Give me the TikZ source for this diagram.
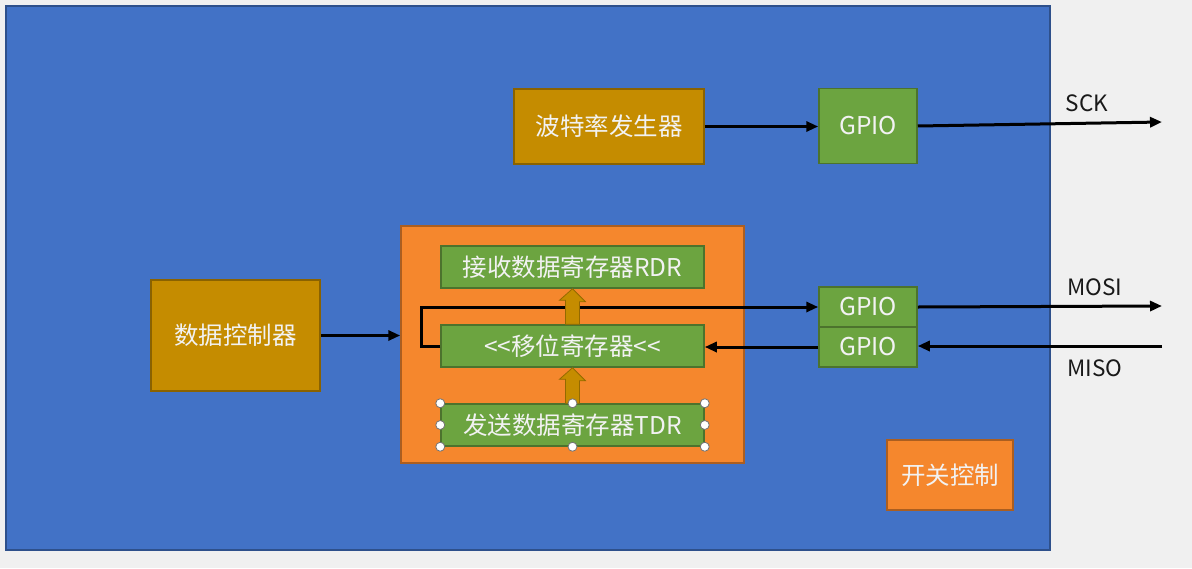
\documentclass[tikz,border=0pt]{standalone}
\usepackage{fontspec}
\newfontfamily\cjk{Noto Sans CJK SC}
\usetikzlibrary{arrows.meta,calc}

\begin{document}
\begin{tikzpicture}[x=1pt,y=-1pt,
	box/.style={draw=#1!70!black, fill=#1, line width=1.5pt, inner sep=0pt,
		font=\cjk\fontsize{24.5}{28}\selectfont, text=textwhite},
	goldbox/.style={box=gold},
	gpiobox/.style={box=gpiogreen, minimum width=98pt},
	orangebox/.style={box=spiorange},
	regbox/.style={box=gpiogreen, minimum width=263pt, minimum height=42pt},
	siglabel/.style={font=\cjk\fontsize{22.5}{26}\selectfont, text=black!90},
	sig/.style={line width=3pt, -{Triangle[length=12pt,width=10pt]}},
	blockarrow/.style={fill=gold, draw=gold!75!black, line width=0.8pt},
	handle/.style={circle, fill=white, draw=black!55, line width=0.8pt,
		minimum size=9pt, inner sep=0pt}]
	\definecolor{bggray}{RGB}{240,240,240}
	\definecolor{panelblue}{RGB}{66,114,198}
	\definecolor{gold}{RGB}{197,140,0}
	\definecolor{gpiogreen}{RGB}{108,164,64}
	\definecolor{spiorange}{RGB}{245,135,45}
	\definecolor{textwhite}{RGB}{242,242,242}
	
	\fill[bggray] (0,0) rectangle (1192,568);
	\draw[fill=panelblue, draw=panelblue!70!black, line width=1.5pt] (6,6) rectangle (1050,550);
	
	% clock path
	\node[goldbox, minimum width=190pt, minimum height=75pt] (baud) at (609,126.5) {波特率发生器};
	\node[gpiobox, minimum height=75pt] (gpiosck) at (868,126) {GPIO};
	\node[siglabel] (scklabel) at (1087,103) {SCK};
	\coordinate (sckend) at (1162,122);
	
	% shift register block
	\node[orangebox, minimum width=343pt, minimum height=237pt] (spi) at (572.5,344.5) {};
	\node[regbox] (rdr) at (572.5,267) {接收数据寄存器RDR};
	\node[regbox] (shift) at (572.5,346) {<\kern0pt<移位寄存器<\kern0pt<};
	\node[regbox] (tdr) at (572.5,425) {发送数据寄存器TDR};
	\node[goldbox, minimum width=169pt, minimum height=111pt] (ctrl) at (235.5,335.5) {数据控制器};
	
	% data pins
	\node[gpiobox, minimum height=40pt] (mosi) at (868,307) {GPIO};
	\node[gpiobox, minimum height=40pt] (miso) at (868,347) {GPIO};
	\node[siglabel] (mosilabel) at (1095,287) {MOSI};
	\node[siglabel] (misolabel) at (1095,368) {MISO};
	\coordinate (mosiend) at (1162,306);
	\coordinate (misoend) at (1162,346);
	
	\node[orangebox, minimum width=126pt, minimum height=70pt] (switch) at (950,475) {开关控制};
	
	\draw[sig] (baud.east) -- (baud.east -| gpiosck.west);
	\draw[sig] (gpiosck.east) -- (sckend);
	\draw[sig] (ctrl.east) -- (ctrl.east -| spi.west);
	\draw[sig] (shift.west) -- ++(-19,0) |- (mosi.west);
	\draw[sig] (miso.west) -- (miso.west -| shift.east);
	\draw[sig] (mosi.east) -- (mosiend);
	\draw[sig] (misoend) -- (misoend -| miso.east);
	
	\foreach \from/\to in {shift/rdr, tdr/shift}
		\draw[blockarrow] ($(\from.north)+(-7,0)$) -- ++(0,-24) -- ++(-6,0) -- (\to.south)
			-- ($(\to.south)+(13,13)$) -- ++(-6,0) -- ($(\from.north)+(7,0)$) -- cycle;
	
	\foreach \a [count=\i] in {north west,north,north east,west,east,south west,south,south east}
		\node[handle] (handle\i) at (tdr.\a) {};
	
\end{tikzpicture}
\end{document}
